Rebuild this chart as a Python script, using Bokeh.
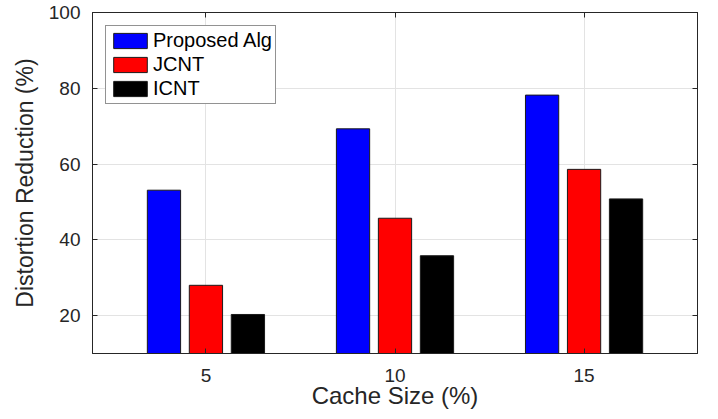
from bokeh.plotting import figure
from bokeh.models import ColumnDataSource, LinearAxis, Range1d, FixedTicker, Legend, LegendItem
from bokeh.transform import dodge
from bokeh.embed import file_html
from bokeh.resources import INLINE

cache_size = [5, 10, 15]
proposed = [53.1, 69.3, 78.2]
jcnt = [28.0, 45.7, 58.6]
icnt = [20.3, 35.8, 50.8]
series_names = ["Proposed Alg", "JCNT", "ICNT"]
colors = ["#0000ff", "#ff0000", "#000000"]
y_ticks = [20, 40, 60, 80, 100]

src = ColumnDataSource(dict(x=cache_size, p=proposed, j=jcnt, i=icnt))

FONT = "Liberation Sans"
TXT = "#262626"

p = figure(frame_width=605, frame_height=341, output_backend="svg", toolbar_location=None,
           x_range=Range1d(2, 18), y_range=Range1d(10, 100),
           min_border_left=92, min_border_right=12, min_border_top=12, min_border_bottom=40)
p.outline_line_color = TXT
p.outline_line_width = 1
p.background_fill_color = "white"

offs = [-1.11, 0.0, 1.11]
cols = ["p", "j", "i"]
renderers = []
for off, c, col in zip(offs, cols, colors):
    r = p.vbar(x=dodge("x", off), top=c, bottom=0, width=0.88, source=src,
               fill_color=col, line_color="#1a1a1a", line_width=1)
    renderers.append(r)

for ax in (p.xaxis[0], p.yaxis[0]):
    ax.major_tick_in = 5
    ax.major_tick_out = 0
    ax.minor_tick_in = 0
    ax.minor_tick_out = 0
    ax.axis_line_color = TXT
    ax.major_tick_line_color = TXT
    ax.major_label_text_font = FONT
    ax.major_label_text_font_size = "19px"
    ax.major_label_text_color = TXT
    ax.axis_label_text_font = FONT
    ax.axis_label_text_font_style = "normal"
    ax.axis_label_text_color = TXT

p.xaxis[0].axis_label_text_font_size = "24px"
p.yaxis[0].axis_label_text_font_size = "23px"
p.xaxis[0].ticker = FixedTicker(ticks=cache_size)
p.yaxis[0].ticker = FixedTicker(ticks=y_ticks)
p.xaxis[0].axis_label = "Cache Size (%)"
p.yaxis[0].axis_label = "Distortion Reduction (%)"
p.xaxis[0].major_label_standoff = 15
p.yaxis[0].major_label_standoff = 12
p.xaxis[0].axis_label_standoff = -3
p.yaxis[0].axis_label_standoff = 8

for loc, tk in (("above", cache_size), ("right", y_ticks)):
    a = LinearAxis(ticker=FixedTicker(ticks=tk))
    a.major_tick_in = 5
    a.major_tick_out = 0
    a.minor_tick_in = 0
    a.minor_tick_out = 0
    a.major_label_overrides = {t: "" for t in tk}
    a.major_label_standoff = 0
    a.axis_line_color = TXT
    a.major_tick_line_color = TXT
    p.add_layout(a, loc)

p.xgrid.ticker = FixedTicker(ticks=cache_size)
p.ygrid.ticker = FixedTicker(ticks=y_ticks)
p.xgrid.grid_line_color = "#e3e3e3"
p.ygrid.grid_line_color = "#e3e3e3"

legend = Legend(items=[LegendItem(label=n, renderers=[r]) for n, r in zip(series_names, renderers)],
                location="top_left")
legend.margin = 13
legend.padding = 3
legend.spacing = 1
legend.glyph_width = 42
legend.glyph_height = 19
legend.label_height = 19
legend.label_standoff = 2
legend.label_text_font = FONT
legend.label_text_font_size = "20px"
legend.label_text_color = "#000000"
legend.border_line_color = TXT
legend.border_line_width = 1
legend.background_fill_alpha = 1
p.add_layout(legend)

open("out.html", "w").write(file_html(p, INLINE))
